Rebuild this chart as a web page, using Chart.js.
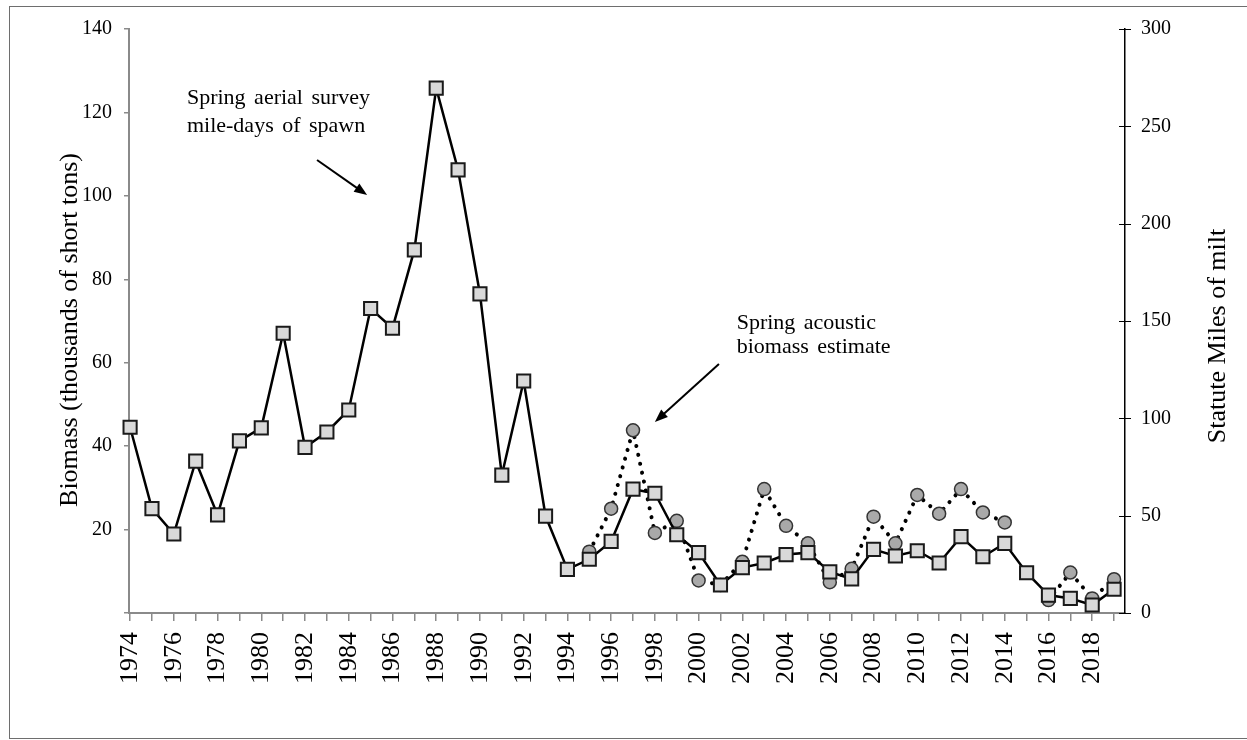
<!DOCTYPE html>
<html>
<head>
<meta charset="utf-8">
<script src="https://cdn.jsdelivr.net/npm/chart.js@4.4.1/dist/chart.umd.min.js"></script>
<style>
  body { margin: 0; background: #fff; }
  canvas { display: block; }
</style>
</head>
<body>
<canvas id="herringChart" width="1247" height="740"></canvas>
<script>
const years = [1974, 1975, 1976, 1977, 1978, 1979, 1980, 1981, 1982, 1983,
  1984, 1985, 1986, 1987, 1988, 1989, 1990, 1991, 1992, 1993,
  1994, 1995, 1996, 1997, 1998, 1999, 2000, 2001, 2002, 2003,
  2004, 2005, 2006, 2007, 2008, 2009, 2010, 2011, 2012, 2013,
  2014, 2015, 2016, 2017, 2018, 2019];

// aerial survey, statute miles of milt (right axis)
const mileDays = [95.4, 53.6, 40.6, 78.0, 50.4, 88.4, 95.1, 143.7, 85.1, 93.0,
  104.3, 156.4, 146.3, 186.5, 269.6, 227.6, 163.9, 70.8, 119.2, 49.8,
  22.4, 27.6, 36.8, 63.6, 61.5, 40.2, 31.0, 14.4, 23.3, 25.7,
  30.0, 31.0, 21.1, 17.5, 32.7, 29.3, 32.0, 25.7, 39.2, 28.9,
  35.8, 20.7, 9.2, 7.5, 4.1, 12.2];

// acoustic biomass, thousands of short tons (left axis)
const acoustic = [null, null, null, null, null, null, null, null, null, null,
  null, null, null, null, null, null, null, null, null, null,
  null, 14.7, 25.0, 43.8, 19.2, 22.1, 7.8, 6.7, 12.3, 29.7,
  20.9, 16.7, 7.4, 10.6, 23.1, 16.7, 28.3, 23.8, 29.7, 24.1,
  21.7, null, 3.1, 9.7, 3.5, 8.1];

const biomassTicks = [0, 20, 40, 60, 80, 100, 120, 140];
const milesTicks = [0, 50, 100, 150, 200, 250, 300];

const serif = "'Liberation Serif', 'Times New Roman', serif";
const axisGray = '#8a8a8a';

const toPoints = values => years.map((yr, i) => ({ x: yr, y: values[i] }));

function drawArrow(ctx, x0, y0, x1, y1) {
  const ang = Math.atan2(y1 - y0, x1 - x0);
  const head = 13, half = 5;
  ctx.beginPath();
  ctx.moveTo(x0, y0);
  ctx.lineTo(x1 - Math.cos(ang) * head * 0.8, y1 - Math.sin(ang) * head * 0.8);
  ctx.stroke();
  ctx.beginPath();
  ctx.moveTo(x1, y1);
  ctx.lineTo(x1 - Math.cos(ang) * head - Math.sin(ang) * half, y1 - Math.sin(ang) * head + Math.cos(ang) * half);
  ctx.lineTo(x1 - Math.cos(ang) * head + Math.sin(ang) * half, y1 - Math.sin(ang) * head - Math.cos(ang) * half);
  ctx.closePath();
  ctx.fill();
}

const decorations = {
  id: 'decorations',
  beforeDraw(chart) {
    const ctx = chart.ctx;
    ctx.save();
    ctx.fillStyle = '#fff';
    ctx.fillRect(0, 0, chart.width, chart.height);
    ctx.strokeStyle = '#6e6e6e';
    ctx.lineWidth = 1;
    ctx.strokeRect(9.5, 6.5, chart.width, chart.height - 8);
    ctx.restore();
  },
  afterDraw(chart) {
    const { ctx, chartArea } = chart;
    const { x, y, y1 } = chart.scales;
    ctx.save();

    // right axis ticks cross the axis line
    ctx.strokeStyle = '#000';
    ctx.lineWidth = 1;
    y1.ticks.forEach(t => {
      const py = Math.round(y1.getPixelForValue(t.value)) + 0.5;
      ctx.beginPath();
      ctx.moveTo(y1.left - 6, py);
      ctx.lineTo(y1.left + 6, py);
      ctx.stroke();
    });

    // axis titles
    ctx.fillStyle = '#000';
    ctx.font = '26px ' + serif;
    ctx.textAlign = 'center';
    ctx.textBaseline = 'middle';
    const midY = (chartArea.top + chartArea.bottom) / 2;
    ctx.save();
    ctx.translate(chartArea.left - 59, midY + 9);
    ctx.rotate(-Math.PI / 2);
    ctx.fillText('Biomass (thousands of short tons)', 0, 0);
    ctx.restore();
    ctx.save();
    ctx.translate(chartArea.right + 93, midY + 15);
    ctx.rotate(-Math.PI / 2);
    ctx.fillText('Statute Miles of milt', 0, 0);
    ctx.restore();

    // series notes
    ctx.font = '22px ' + serif;
    ctx.textAlign = 'left';
    ctx.textBaseline = 'alphabetic';
    if ('wordSpacing' in ctx) ctx.wordSpacing = '3px';
    ctx.fillText('Spring aerial survey', x.getPixelForValue(1976.6), y.getPixelForValue(122.0));
    ctx.fillText('mile-days of spawn', x.getPixelForValue(1976.6), y.getPixelForValue(115.4));
    ctx.fillText('Spring acoustic', x.getPixelForValue(2001.74), y.getPixelForValue(68.2));
    ctx.fillText('biomass estimate', x.getPixelForValue(2001.74), y.getPixelForValue(62.3));

    ctx.strokeStyle = '#000';
    ctx.lineWidth = 2;
    drawArrow(ctx, x.getPixelForValue(1982.55), y.getPixelForValue(108.6),
      x.getPixelForValue(1984.84), y.getPixelForValue(100.2));
    drawArrow(ctx, x.getPixelForValue(2000.93), y.getPixelForValue(59.7),
      x.getPixelForValue(1998.0), y.getPixelForValue(45.8));
    ctx.restore();
  }
};

new Chart(document.getElementById('herringChart'), {
  type: 'line',
  data: {
    datasets: [
      {
        label: 'Spring aerial survey mile-days of spawn',
        data: toPoints(mileDays),
        yAxisID: 'y1',
        borderColor: '#000',
        borderWidth: 2.5,
        tension: 0,
        pointStyle: 'rect',
        pointRadius: 9.3,
        pointBackgroundColor: '#d9d9d9',
        pointBorderColor: '#1a1a1a',
        pointBorderWidth: 2,
        clip: false
      },
      {
        label: 'Spring acoustic biomass estimate',
        data: toPoints(acoustic),
        yAxisID: 'y',
        borderColor: '#000',
        borderWidth: 4,
        borderDash: [0.1, 9],
        borderCapStyle: 'round',
        tension: 0,
        spanGaps: false,
        pointStyle: 'circle',
        pointRadius: 6.5,
        pointBackgroundColor: '#a9a9a9',
        pointBorderColor: '#333',
        pointBorderWidth: 1.5,
        clip: false
      }
    ]
  },
  options: {
    responsive: false,
    animation: false,
    layout: { padding: { top: 29, left: 0, right: 0, bottom: 0 } },
    plugins: {
      legend: { display: false },
      tooltip: { enabled: false }
    },
    scales: {
      x: {
        type: 'linear',
        min: 1973.95,
        max: 2019.5,
        afterBuildTicks: scale => { scale.ticks = years.map(v => ({ value: v })); },
        afterFit: scale => { scale.height = 127; },
        border: { color: axisGray, width: 2 },
        grid: { drawOnChartArea: false, tickLength: 8, color: axisGray, lineWidth: 1.5 },
        ticks: {
          autoSkip: false,
          minRotation: 90,
          maxRotation: 90,
          padding: 11,
          color: '#000',
          font: { family: serif, size: 26 },
          callback: v => (v % 2 === 0 ? String(v) : '')
        }
      },
      y: {
        position: 'left',
        min: 0,
        max: 140,
        afterBuildTicks: scale => { scale.ticks = biomassTicks.map(v => ({ value: v })); },
        afterFit: scale => { scale.width = 129; },
        border: { color: axisGray, width: 2 },
        grid: { drawOnChartArea: false, tickLength: 5, color: axisGray, lineWidth: 1.5 },
        ticks: {
          padding: 12,
          color: '#000',
          font: { family: serif, size: 20 },
          callback: v => (v === 0 ? '' : String(v))
        }
      },
      y1: {
        position: 'right',
        min: 0,
        max: 300,
        afterBuildTicks: scale => { scale.ticks = milesTicks.map(v => ({ value: v })); },
        afterFit: scale => { scale.width = 122; },
        border: { color: '#000', width: 1.5 },
        grid: { drawOnChartArea: false, drawTicks: false },
        ticks: {
          padding: 16,
          color: '#000',
          font: { family: serif, size: 20 },
          callback: v => String(v)
        }
      }
    }
  },
  plugins: [decorations]
});
</script>
</body>
</html>
